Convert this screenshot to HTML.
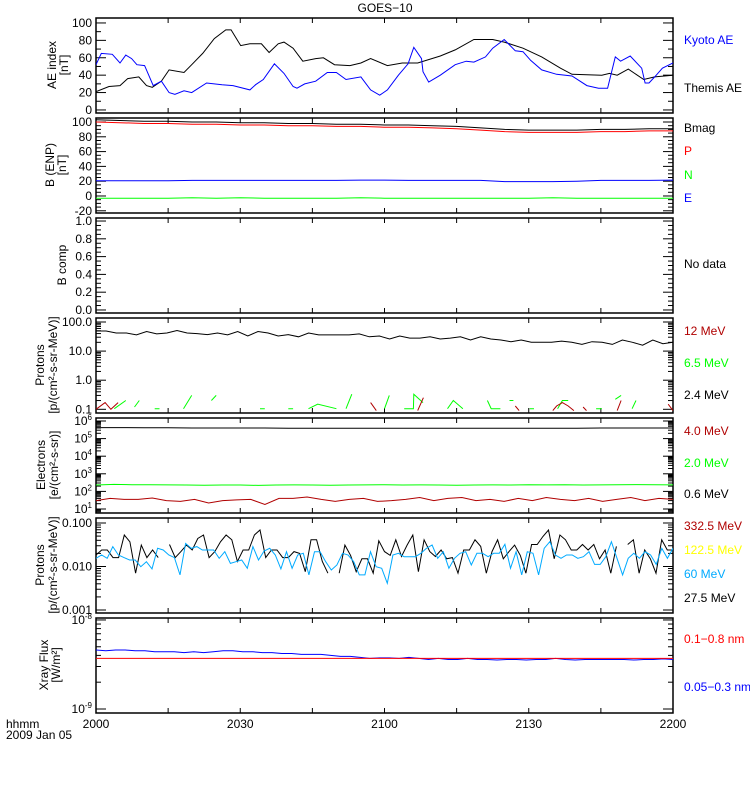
<!DOCTYPE html>
<html><head><meta charset="utf-8">
<style>
html,body{margin:0;padding:0;background:#fff;}
svg{display:block;font-family:"Liberation Sans",sans-serif;}
text{font-size:12px;}
</style></head>
<body>
<svg id="chart" width="750" height="800" viewBox="0 0 750 800" xmlns="http://www.w3.org/2000/svg">
<rect x="0" y="0" width="750" height="800" fill="#fff"/>
<text x="385" y="12" text-anchor="middle" font-size="13">GOES−10</text>
</svg>
<script>
// ---- data ----
const xTickLabels = ["2000","2030","2100","2130","2200"];
// Panel 1 AE index (time in minutes after 20:00)
const themisT = [0,2.7,5,6.6,8.9,10.5,11.7,13.6,15.2,18.3,19.9,22.2,24.6,27,28.1,30.1,32,34.4,36,37.9,39.1,41,43,45.7,47.3,49.6,52.8,55.1,57.1,60.6,63.7,66.9,71.6,74.7,78.6,82.5,84.9,88.8,92.7,96.6,99,105.2,106.8,108.4,110.7,113.9,116.2,120];
const themisV = [21,27,28,36,38,28,26,33,46,43,52,65,82,92,92,74,76,76,66,76,78,71,56,59,60,52,51,54,59,51,54,54,62,69,81,81,78,71,61,48,41,40,42,40,47,35,38,40];
const kyotoT = [0,1.1,3.4,5,6.2,7.4,8.5,10.1,11.9,13.6,15.2,16.4,18.3,19.9,23,26.2,28.5,32,33.2,34.8,37.1,39.1,41,41.8,43.4,45.7,48.1,50,52,55.1,57.1,59,60.6,62.9,64.9,66.1,67.7,68,69.2,71.6,74.7,77,78.6,81,82.5,84.9,87.2,88.8,90.4,92.7,95.8,99,102.1,104.5,106.4,108,109.1,111.1,113.5,114.2,115,116.2,117.8,120];
const kyotoV = [52,65,64,54,63,59,52,51,28,33,20,18,22,20,31,29,28,23,29,35,53,42,27,25,30,33,43,43,35,38,23,17,23,40,53,72,59,44,32,40,52,56,55,61,71,81,68,67,57,46,41,39,28,25,25,61,56,62,48,31,31,38,48,54];
// Panel 2 B field (uniform over 2 hours)
const bmagV = [103,102,101,101,100,100,99,99,98,98,97,97,96,96,95,94,92,90,89,89,89,90,90,91,91];
const bpV = [100,99,98,98,97,97,96,96,95,95,94,94,93,93,92,91,89,87,86,86,86,87,87,88,88];
const bnV = [-3,-3,-3,-3,-2.5,-3,-2.5,-3,-3,-3,-3,-2.5,-3,-3,-3,-3,-3,-3,-3,-2.5,-3,-3,-3,-3,-3];
const beV = [20.5,20.5,20.5,20.5,21,21,21,21,21,21,21,21.5,21.5,21,21,21,21,19.5,19.5,19.5,20,21,21,21,21.5];
// Panel 4 protons
const p24V = [49,49,42,42,36,47,39,42,51,42,40,37,42,36,47,33,47,42,33,37,31,42,36,36,36,36,39,31,33,26,33,28,28,31,26,28,31,24,31,26,24,21,24,20,20,20,22,20,17,21,20,17,24,20,16,24,18,20];
const p65T = [3.8,6.2,null,8,9,null,12.2,13.2,null,18.2,19.9,null,24,25,null,34.1,35.1,null,40,41,null,44.2,46.1,50,null,52,53.2,null,60,61,null,64.1,66,66.1,68,null,73.1,74.3,76.3,null,81.4,82.2,84.1,null,86,86.8,null,90.2,91.1,null,96,97,98.2,null,104,105.2,null,108,109.2,null,111.5,112.3];
const p65V = [0.105,0.2,null,0.12,0.2,null,0.105,0.105,null,0.105,0.3,null,0.2,0.3,null,0.105,0.105,null,0.105,0.105,null,0.105,0.15,0.105,null,0.105,0.33,null,0.105,0.3,null,0.105,0.105,0.33,0.17,null,0.105,0.2,0.105,null,0.2,0.105,0.105,null,0.2,0.2,null,0.105,0.105,null,0.105,0.2,0.2,null,0.105,0.105,null,0.22,0.3,null,0.105,0.2];
const p12T = [0,1.9,3.1,4.6,null,57.1,58.3,null,66.9,68.1,null,87.2,88,null,95,95.8,97,98.2,99.4,null,101.3,102,null,108.4,109.2,null,119,120];
const p12V = [0.1,0.17,0.1,0.17,null,0.17,0.09,null,0.09,0.25,null,0.13,0.09,null,0.09,0.13,0.17,0.13,0.09,null,0.12,0.09,null,0.09,0.2,null,0.15,0.09];
// Panel 5 electrons
const e06V = [4.2e5,4.2e5,4.1e5,4.1e5,4.0e5,4.0e5,4.0e5,4.0e5,3.9e5,3.9e5,3.9e5,3.9e5,3.9e5,3.9e5,3.9e5,3.9e5,3.9e5,3.9e5,3.9e5,3.9e5,3.9e5,4.0e5,4.0e5,4.0e5,4.0e5];
const e20V = [230,250,240,240,235,230,225,230,230,220,230,235,230,225,230,235,240,230,235,230,225,230,235,230,240,235,240,230,235,240,245,240,235];
const e40V = [30,40,35,35,42,30,27,35,22,30,33,35,18,40,40,48,35,27,35,40,27,30,35,45,30,40,45,30,35,27,40,30,45,35,30,40,27,35,45,30,40,35];
// Panel 6 high-energy protons
const p275V = [0.0184,0.024,0.024,0.016,0.016,0.053,0.037,0.007,0.031,0.016,0.024,0.016,null,0.032,0.016,0.022,0.031,0.024,0.044,0.053,0.016,0.022,0.037,0.053,0.041,0.013,0.024,0.024,0.053,0.069,0.016,0.024,0.024,0.016,0.016,0.022,0.020,0.0076,0.041,0.041,0.013,0.007,null,0.007,0.031,0.018,0.0076,0.015,0.015,0.007,0.039,0.022,0.018,0.041,0.017,0.031,0.053,0.0076,0.041,0.022,0.017,0.024,0.015,0.016,0.007,0.024,0.024,0.041,0.029,0.007,0.022,0.041,0.015,0.022,0.031,0.018,0.007,0.032,0.032,0.049,0.069,0.015,0.053,0.041,0.024,0.024,0.032,0.024,0.032,0.015,0.024,0.007,0.029,null,0.032,0.041,0.007,0.024,0.015,0.007,0.041,0.024,0.024];
const p60V = [0.0154,0.0184,0.0154,0.0286,0.0184,0.016,0.0141,0.0141,0.0099,0.0129,0.0088,0.0262,0.024,0.0184,0.016,0.0064,0.034,0.0262,0.0286,0.024,0.024,0.024,0.0154,0.0219,0.0118,0.0129,0.0141,0.0091,0.0286,0.0141,0.0227,0.0262,0.0184,0.0088,0.0219,0.0091,0.0184,0.0201,0.0064,0.0219,0.0219,0.0129,0.0083,0.0108,0.0201,0.0184,0.0129,0.0064,0.0064,0.0219,0.0099,0.0091,0.0041,0.0184,0.0201,0.0168,0.0168,0.0168,0.0201,0.0262,0.0312,0.0154,0.0219,0.0091,0.0154,0.0201,0.0219,0.0108,0.0201,0.0201,0.0168,0.0201,0.0201,0.0324,0.0091,0.0219,0.0064,0.0219,0.0201,0.0064,0.0262,0.0372,0.0184,0.0154,0.0184,0.0184,0.0154,0.0168,0.0219,0.0112,0.0112,0.0168,0.0372,0.0154,0.0064,0.0154,0.0201,0.0154,0.0219,0.0184,0.0112,0.0262,0.0154,0.0262];
// Panel 7 X-ray
const xLongV = [3.7e-9,3.7e-9];
const xShortV = [4.6e-9,4.5e-9,4.6e-9,4.6e-9,4.5e-9,4.5e-9,4.4e-9,4.4e-9,4.4e-9,4.3e-9,4.4e-9,4.3e-9,4.4e-9,4.5e-9,4.5e-9,4.4e-9,4.4e-9,4.3e-9,4.3e-9,4.2e-9,4.2e-9,4.1e-9,4.1e-9,4.1e-9,4.0e-9,3.9e-9,3.9e-9,3.8e-9,3.7e-9,3.75e-9,3.75e-9,3.7e-9,3.8e-9,3.7e-9,3.6e-9,3.7e-9,3.6e-9,3.6e-9,3.7e-9,3.6e-9,3.6e-9,3.55e-9,3.6e-9,3.6e-9,3.55e-9,3.6e-9,3.6e-9,3.7e-9,3.6e-9,3.55e-9,3.6e-9,3.6e-9,3.6e-9,3.6e-9,3.6e-9,3.55e-9,3.6e-9,3.6e-9,3.65e-9,3.6e-9];

// ---- layout ----
const NS = "http://www.w3.org/2000/svg";
const svg = document.getElementById("chart");
const L = 96, R = 673;
function xs(t){ return L + t/120*(R-L); }
function mk(tag, attrs, parent){
  const e = document.createElementNS(NS, tag);
  for (const k in attrs) e.setAttribute(k, attrs[k]);
  (parent||svg).appendChild(e);
  return e;
}
function linScale(top,bottom,lo,hi){ return v => bottom - (v-lo)/(hi-lo)*(bottom-top); }
function logScale(top,bottom,lo,hi){ return v => bottom - (Math.log10(v)-lo)/(hi-lo)*(bottom-top); }

const panels = [
  {top:18,bottom:113,y:linScale(18,113,-3.5,105.7)},
  {top:118,bottom:213,y:linScale(118,213,-23,105.4)},
  {top:218,bottom:313,y:linScale(218,313,-0.034,1.034)},
  {top:318,bottom:413,y:logScale(318,413,-1.127,2.137)},
  {top:418,bottom:513,y:logScale(418,513,0.773,6.17)},
  {top:518,bottom:613,y:logScale(518,613,-3.069,-0.885)},
  {top:618,bottom:713,y:logScale(618,713,-9.045,-7.978)}
];

panels.forEach((p,i)=>{
  const cp = mk("clipPath",{id:"clip"+i});
  mk("rect",{x:L,y:p.top,width:R-L,height:p.bottom-p.top},cp);
});

function tick(p,v,len,label,labelNode){
  const y = p.y(v);
  if (y < p.top-0.5 || y > p.bottom+0.5) return;
  const t1 = mk("line",{x1:L,x2:L+len,y1:y,y2:y,stroke:"#000","stroke-width":1});
  
  
  const t2 = mk("line",{x1:R-len,x2:R,y1:y,y2:y,stroke:"#000","stroke-width":1});
  
  
  if (label!=null){
    const tx = mk("text",{x:L-4,y:y+4,"text-anchor":"end"});
    
    
    if (labelNode){ labelNode(tx); } else { tx.textContent = label; }
  }
}
function linTicks(p,lo,hi,step,minor,fmt){
  for (let v=lo; v<=hi+1e-9; v+=minor){
    const isMaj = Math.abs(Math.round((v-lo)/step)*step-(v-lo))<1e-6;
    tick(p,+v.toFixed(6),isMaj?10:5,isMaj?fmt(v):null);
  }
}
function logTicks(p,d0,d1,fmt){
  for (let d=d0; d<=d1; d++){
    for (let m=1; m<10; m++){
      const v = m*Math.pow(10,d);
      tick(p,v,m===1?10:5,m===1?fmt(d):null, m===1 && fmt.node ? (tx)=>fmt.node(tx,d) : null);
    }
  }
}
linTicks(panels[0],0,100,20,10,v=>v.toFixed(0));
linTicks(panels[1],-20,100,20,5,v=>v.toFixed(0));
linTicks(panels[2],0,1,0.2,0.05,v=>v.toFixed(1));
logTicks(panels[3],-1,2,d=>Math.pow(10,d).toFixed(1));
const expFmt = d=>"10^"+d;
expFmt.node = (tx,d)=>{
  tx.textContent = "10";
  const s = mk("tspan",{dy:-5,"font-size":"8"},tx);
  s.textContent = String(d);
};
logTicks(panels[4],0,6,expFmt);
logTicks(panels[5],-3,-1,d=>Math.pow(10,d).toFixed(3));
const expFmt2 = d=>"10^"+d;
expFmt2.node = (tx,d)=>{
  tx.textContent = "10";
  const s = mk("tspan",{dy:-5,"font-size":"8"},tx);
  s.textContent = String(d);
};
logTicks(panels[6],-9,-8,expFmt2);

// frames and x ticks
panels.forEach((p,i)=>{
  const fr = mk("rect",{x:L,y:p.top,width:R-L,height:p.bottom-p.top,fill:"none",stroke:"#000","stroke-width":1.5});
  
  
  for (let t=15; t<120; t+=15){
    const a = mk("line",{x1:xs(t),x2:xs(t),y1:p.bottom,y2:p.bottom-5,stroke:"#000"});
    
    
    const b = mk("line",{x1:xs(t),x2:xs(t),y1:p.top,y2:p.top+5,stroke:"#000"});
    
    
  }
});
xTickLabels.forEach((lab,i)=>{
  const tx = mk("text",{x:xs(i*30),y:728,"text-anchor":"middle"});
  
  
  tx.textContent = lab;
});

// series drawing
function series(pi,T,V,color,name){
  const p = panels[pi];
  const n = V.length;
  let d = "", pen=false;
  for (let k=0;k<n;k++){
    const v = V[k];
    const t = T ? T[k] : (n===1?0:k*120/(n-1));
    if (v==null || t==null){ pen=false; continue; }
    d += (pen?"L":"M")+xs(t).toFixed(1)+","+p.y(v).toFixed(1);
    pen = true;
  }
  const path = mk("path",{d:d,fill:"none",stroke:color,"stroke-width":1,"clip-path":"url(#clip"+pi+")"});
  
  
}
series(0,themisT,themisV,"#000","themis-ae-line");
series(0,kyotoT,kyotoV,"#0000ff","kyoto-ae-line");
series(1,null,bnV,"#00ff00","b-n-line");
series(1,null,beV,"#0000ff","b-e-line");
series(1,null,bmagV,"#000","bmag-line");
series(1,null,bpV,"#ff0000","b-p-line");
series(3,null,p24V,"#000","proton-2-4mev-line");
series(3,p65T,p65V,"#00ff00","proton-6-5mev-line");
series(3,p12T,p12V,"#b00000","proton-12mev-line");
series(4,null,e06V,"#000","electron-0-6mev-line");
series(4,null,e20V,"#00ff00","electron-2-0mev-line");
series(4,null,e40V,"#b00000","electron-4-0mev-line");
series(5,null,p275V,"#000","proton-27-5mev-line");
series(5,null,p60V,"#00aaff","proton-60mev-line");
series(6,null,xShortV,"#0000ff","xray-short-line");
series(6,null,xLongV,"#ff0000","xray-long-line");

// legends
const legends = [
  ["Kyoto AE",40,"#0000ff"],["Themis AE",88,"#000"],
  ["Bmag",128,"#000"],["P",151,"#ff0000"],["N",175,"#00ff00"],["E",198,"#0000ff"],
  ["No data",264,"#000"],
  ["12 MeV",331,"#b00000"],["6.5 MeV",363,"#00ff00"],["2.4 MeV",395,"#000"],
  ["4.0 MeV",431,"#b00000"],["2.0 MeV",463,"#00ff00"],["0.6 MeV",494,"#000"],
  ["332.5 MeV",526,"#b00000"],["122.5 MeV",550,"#ffff00"],["60 MeV",574,"#00aaff"],["27.5 MeV",598,"#000"],
  ["0.1−0.8 nm",639,"#ff0000"],["0.05−0.3 nm",687,"#0000ff"]
];
legends.forEach(l=>{
  const tx = mk("text",{x:684,y:l[1]+4,fill:l[2]});
  
  
  tx.textContent = l[0];
});

// y-axis titles
function ytitle(x,y,txt,name){
  const tx = mk("text",{x:x,y:y,"text-anchor":"middle",transform:"rotate(-90 "+x+" "+y+")"});
  
  
  tx.textContent = txt;
}
ytitle(56,65,"AE index","y-axis-title-ae");
ytitle(68,65,"[nT]","y-axis-unit-ae");
ytitle(54,165,"B (ENP)","y-axis-title-b");
ytitle(66,165,"[nT]","y-axis-unit-b");
ytitle(66,265,"B comp","y-axis-title-bcomp");
ytitle(44,365,"Protons","y-axis-title-protons");
ytitle(57,365,"[p/(cm²-s-sr-MeV)]","y-axis-unit-protons");
ytitle(45,465,"Electrons","y-axis-title-electrons");
ytitle(58,465,"[e/(cm²-s-sr)]","y-axis-unit-electrons");
ytitle(44,565,"Protons","y-axis-title-hep");
ytitle(57,565,"[p/(cm²-s-sr-MeV)]","y-axis-unit-hep");
ytitle(48,665,"Xray Flux","y-axis-title-xray");
ytitle(60,665,"[W/m²]","y-axis-unit-xray");

const h1 = mk("text",{x:6,y:728});


h1.textContent = "hhmm";
const h2 = mk("text",{x:6,y:739});


h2.textContent = "2009 Jan 05";
</script>
</body></html>
